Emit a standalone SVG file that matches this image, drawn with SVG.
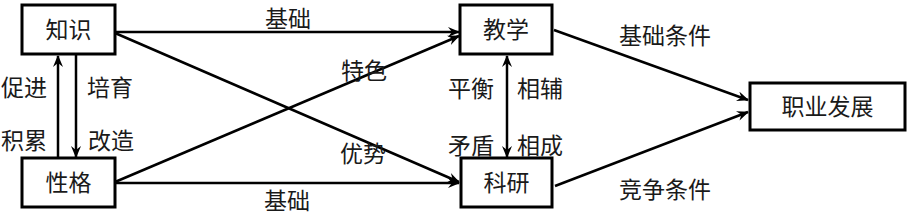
<svg xmlns="http://www.w3.org/2000/svg" width="907" height="215" viewBox="0 0 907 215">
<style>
.box{fill:#fff;stroke:#000;stroke-width:3}
.t{font-family:"Noto Sans CJK SC","Liberation Sans",sans-serif;font-size:23px;fill:#1a1a1a}
.m{text-anchor:middle}
.ln{fill:none;stroke:#000;stroke-width:2.5}
</style>
<defs>
<marker id="ah" viewBox="0 0 12 10" refX="11" refY="5" markerWidth="12" markerHeight="10" markerUnits="userSpaceOnUse" orient="auto-start-reverse">
<path d="M0,0 L12,5 L0,10 L4,5 Z" fill="#000"/>
</marker>
</defs>
<rect width="907" height="215" fill="#fff"/>
<g id="connectors">
<line class="ln" x1="58" y1="158" x2="58" y2="56" marker-end="url(#ah)"/>
<line class="ln" x1="76" y1="55" x2="76" y2="157" marker-end="url(#ah)"/>
<line class="ln" x1="115" y1="32" x2="459" y2="32" marker-end="url(#ah)"/>
<line class="ln" x1="115" y1="33" x2="459" y2="182" marker-end="url(#ah)"/>
<line class="ln" x1="115" y1="182" x2="459" y2="36" marker-end="url(#ah)"/>
<line class="ln" x1="115" y1="183" x2="459" y2="183" marker-end="url(#ah)"/>
<line class="ln" x1="507" y1="56" x2="507" y2="157" marker-start="url(#ah)" marker-end="url(#ah)"/>
<line class="ln" x1="554" y1="30" x2="748" y2="100" marker-end="url(#ah)"/>
<line class="ln" x1="555" y1="186" x2="748" y2="112" marker-end="url(#ah)"/>
<text class="t m" x="288" y="27">基础</text>
<text class="t m" x="287" y="209">基础</text>
<text class="t m" x="364" y="79">特色</text>
<text class="t m" x="363" y="162">优势</text>
<text class="t m" x="24" y="96">促进</text>
<text class="t m" x="24" y="149">积累</text>
<text class="t m" x="110" y="96">培育</text>
<text class="t m" x="111" y="149">改造</text>
<text class="t m" x="471" y="97">平衡</text>
<text class="t m" x="540" y="97">相辅</text>
<text class="t m" x="471" y="154">矛盾</text>
<text class="t m" x="540" y="154">相成</text>
<text class="t m" x="665" y="44">基础条件</text>
<text class="t m" x="665" y="198">竞争条件</text>
</g>
<g id="zhishi"><rect class="box" x="22" y="5" width="93" height="49"/><text class="t m" x="68.5" y="38">知识</text></g>
<g id="xingge"><rect class="box" x="22" y="158" width="93" height="49"/><text class="t m" x="68.5" y="191">性格</text></g>
<g id="jiaoxue"><rect class="box" x="460" y="5" width="92" height="49"/><text class="t m" x="506" y="38">教学</text></g>
<g id="keyan"><rect class="box" x="461" y="158" width="91" height="49"/><text class="t m" x="506.5" y="191">科研</text></g>
<g id="zhiye"><rect class="box" x="750" y="83" width="155" height="47"/><text class="t m" x="827.5" y="115">职业发展</text></g>
</svg>
